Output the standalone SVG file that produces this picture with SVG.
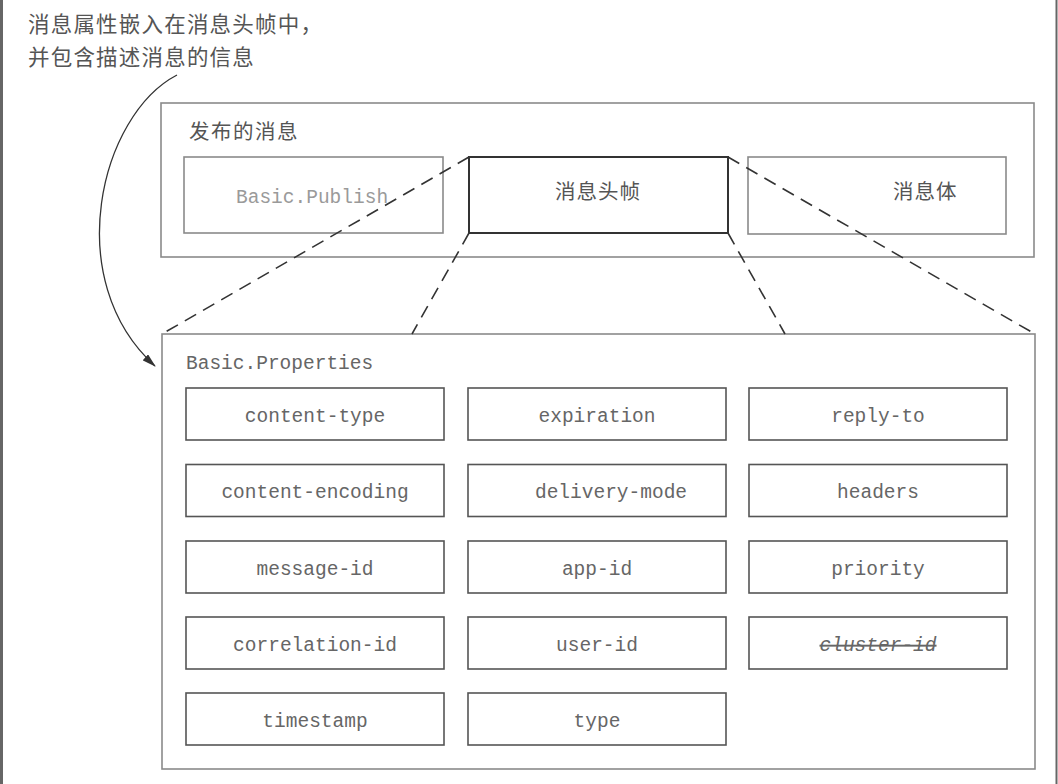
<svg xmlns="http://www.w3.org/2000/svg" width="1058" height="784" viewBox="0 0 1058 784">
  <style>
    .cjk { font-family: "Noto Sans CJK SC", "Liberation Serif", serif; fill: #555; }
    .mono { font-family: "Liberation Mono", "Courier New", monospace; font-size: 19.5px; fill: #666; }
    .outer { fill: none; stroke: #8a8a8a; stroke-width: 1.6; }
    .light { fill: none; stroke: #8a8a8a; stroke-width: 1.6; }
    .cell rect { fill: #fff; stroke: #555; stroke-width: 1.6; }
    .cell text { text-anchor: middle; }
    .dash { fill: none; stroke: #333; stroke-width: 1.6; stroke-dasharray: 13 8; }
  </style>
  <defs>
    <marker id="arrow" viewBox="0 0 14 8" refX="13" refY="4" markerWidth="14" markerHeight="8" markerUnits="userSpaceOnUse" orient="auto">
      <path d="M0,0 L14,4 L0,8 Z" fill="#333"/>
    </marker>
  </defs>

  <rect width="1058" height="784" fill="#fff"/>
  <!-- page edges -->
  <line x1="1.5" y1="0" x2="1.5" y2="784" stroke="#666" stroke-width="3"/>
  <line x1="1056.5" y1="0" x2="1056.5" y2="784" stroke="#666" stroke-width="2"/>

  <!-- caption -->
  <g id="caption">
    <text class="cjk" x="28" y="32" font-size="21.5" letter-spacing="1.2">消息属性嵌入在消息头帧中，</text>
    <text class="cjk" x="28" y="65" font-size="21.5" letter-spacing="1.2">并包含描述消息的信息</text>
  </g>

  <!-- published message -->
  <g id="published-message">
    <rect class="outer" x="161" y="103" width="873" height="154"/>
    <text class="cjk" x="189" y="139" font-size="20.5" letter-spacing="1.5">发布的消息</text>
  </g>
  <g id="basic-publish">
    <rect class="light" x="184" y="157" width="259" height="76"/>
    <text class="mono" x="236" y="203" style="fill:#9a9a9a">Basic.Publish</text>
  </g>
  <g id="header-frame">
    <rect x="469" y="157" width="259" height="76" fill="#fff" stroke="#333" stroke-width="2"/>
    <text class="cjk" x="598" y="199" font-size="20.5" letter-spacing="1" text-anchor="middle">消息头帧</text>
  </g>
  <g id="body-frame">
    <rect class="light" x="748" y="157" width="258" height="77"/>
    <text class="cjk" x="893" y="199" font-size="20.5" letter-spacing="1">消息体</text>
  </g>

  <!-- basic properties -->
  <g id="basic-properties">
    <rect class="outer" x="162" y="334" width="873" height="435"/>
    <text class="mono" x="186" y="369">Basic.Properties</text>
  </g>

  <g id="content-type" class="cell"><rect x="186" y="388" width="258" height="52"/><text class="mono" x="315" y="422">content-type</text></g>
  <g id="expiration" class="cell"><rect x="468" y="388" width="258" height="52"/><text class="mono" x="597" y="422">expiration</text></g>
  <g id="reply-to" class="cell"><rect x="749" y="388" width="258" height="52"/><text class="mono" x="878" y="422">reply-to</text></g>

  <g id="content-encoding" class="cell"><rect x="186" y="464.5" width="258" height="52"/><text class="mono" x="315" y="498">content-encoding</text></g>
  <g id="delivery-mode" class="cell"><rect x="468" y="464.5" width="258" height="52"/><text class="mono" x="611" y="498">delivery-mode</text></g>
  <g id="headers" class="cell"><rect x="749" y="464.5" width="258" height="52"/><text class="mono" x="878" y="498">headers</text></g>

  <g id="message-id" class="cell"><rect x="186" y="541" width="258" height="52"/><text class="mono" x="315" y="575">message-id</text></g>
  <g id="app-id" class="cell"><rect x="468" y="541" width="258" height="52"/><text class="mono" x="597" y="575">app-id</text></g>
  <g id="priority" class="cell"><rect x="749" y="541" width="258" height="52"/><text class="mono" x="878" y="575">priority</text></g>

  <g id="correlation-id" class="cell"><rect x="186" y="617" width="258" height="52"/><text class="mono" x="315" y="651">correlation-id</text></g>
  <g id="user-id" class="cell"><rect x="468" y="617" width="258" height="52"/><text class="mono" x="597" y="651">user-id</text></g>
  <g id="cluster-id" class="cell"><rect x="749" y="617" width="258" height="52"/><text class="mono" x="878" y="651" font-style="italic" text-decoration="line-through">cluster-id</text></g>

  <g id="timestamp" class="cell"><rect x="186" y="693" width="258" height="52"/><text class="mono" x="315" y="727">timestamp</text></g>
  <g id="type" class="cell"><rect x="468" y="693" width="258" height="52"/><text class="mono" x="597" y="727">type</text></g>

  <!-- connectors -->
  <g id="connectors">
    <line class="dash" x1="469" y1="157" x2="162" y2="334"/>
    <line class="dash" x1="469" y1="233" x2="412" y2="334"/>
    <line class="dash" x1="728" y1="157" x2="1035" y2="334"/>
    <line class="dash" x1="728" y1="233" x2="785" y2="334"/>
    <path d="M177,75 C100,115 60,280 155,366" fill="none" stroke="#333" stroke-width="1.3" marker-end="url(#arrow)"/>
  </g>
</svg>
